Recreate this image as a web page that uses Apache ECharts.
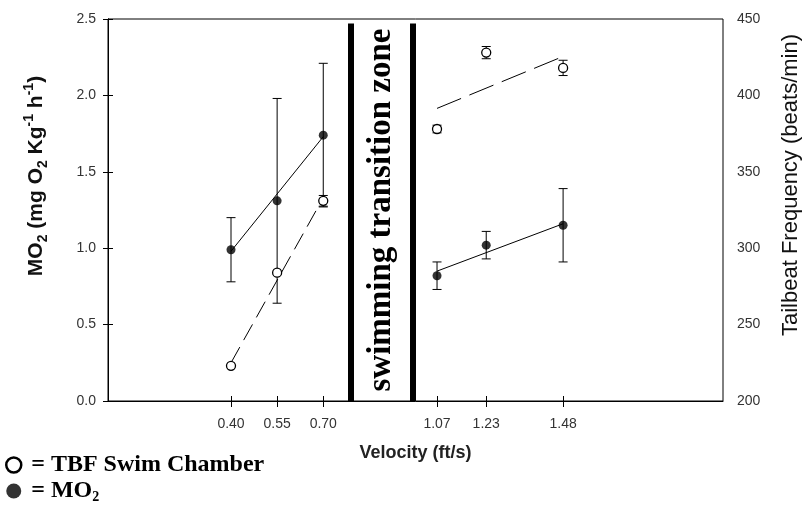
<!DOCTYPE html>
<html>
<head>
<meta charset="utf-8">
<script src="https://cdn.jsdelivr.net/npm/echarts@6/dist/echarts.min.js"></script>
<style>html,body{margin:0;padding:0;background:#fff}#c{width:804px;height:505px}</style>
</head>
<body>
<div id="c"></div>
<script>
// ---- data ----
const velocities = [0.40, 0.55, 0.70, 1.07, 1.23, 1.48];      // x tick labels (ft/s)
const mo2Mean   = [0.99, 1.31, 1.74, 0.82, 1.02, 1.15];        // left axis
const mo2Err    = [0.21, 0.67, 0.47, 0.09, 0.09, 0.24];
const tbfMean   = [223, 284, 331, 378, 428, 418];              // right axis
const tbfErr    = [0, 0, 3.5, 2.5, 4, 5];
const mo2FitSlow = [[0.40, 0.98], [0.70, 1.73]];
const mo2FitFast = [[1.07, 0.85], [1.48, 1.16]];
const tbfFitSlow = [[0.40, 225], [0.70, 333]];
const tbfFitFast = [[1.07, 391.5], [1.48, 425.5]];
const zoneEdges = [0.79, 0.99];       // transition zone boundaries (ft/s)
const zoneTop = 2.47;                 // top of boundary bars (left-axis units)
const zoneLabelPos = [0.89, 1.25];

const sans = '"Liberation Sans", Arial, sans-serif';
const serif = '"Liberation Serif", "Times New Roman", serif';

const mo2Pts = velocities.map((v, i) => [v, mo2Mean[i]]);
const tbfPts = velocities.map((v, i) => [v, tbfMean[i]]);
const mo2ErrData = velocities.map((v, i) => [v, mo2Mean[i], mo2Err[i]]);
const tbfErrData = velocities.map((v, i) => [v, tbfMean[i], tbfErr[i]]);

function errRender(params, api) {
  const x = api.value(0), y = api.value(1), e = api.value(2);
  if (!e) return;
  const t = api.coord([x, y + e]), b = api.coord([x, y - e]);
  const hw = 4.5;
  const st = {stroke: '#000', lineWidth: 1};
  return {type: 'group', children: [
    {type: 'line', shape: {x1: t[0], y1: t[1], x2: b[0], y2: b[1]}, style: st},
    {type: 'line', shape: {x1: t[0] - hw, y1: t[1], x2: t[0] + hw, y2: t[1]}, style: st},
    {type: 'line', shape: {x1: b[0] - hw, y1: b[1], x2: b[0] + hw, y2: b[1]}, style: st}
  ]};
}

const chart = echarts.init(document.getElementById('c'), null, {renderer: 'canvas'});
const lbl = {fontFamily: sans, fontSize: 14, color: '#333'};
chart.setOption({
  animation: false,
  backgroundColor: '#fff',
  grid: {left: 108, right: 81, top: 19, bottom: 104, show: true, borderColor: '#000', borderWidth: 1,
         containLabel: false, outerBoundsMode: 'none'},
  xAxis: [{
    type: 'value', min: 0, max: 2.0,
    name: 'Velocity (ft/s)', nameLocation: 'middle', nameGap: 43,
    nameTextStyle: {fontFamily: sans, fontWeight: 'bold', fontSize: 18, color: '#222'},
    axisLine: {lineStyle: {color: '#000', width: 1}},
    axisTick: {show: true, inside: false, length: 6, lineStyle: {color: '#000'}, customValues: velocities},
    axisLabel: Object.assign({margin: 16, customValues: velocities, formatter: v => v.toFixed(2)}, lbl),
    splitLine: {show: false}
  }, {
    type: 'value', min: 0, max: 2.0, position: 'bottom',
    axisLine: {show: false},
    axisTick: {show: true, inside: true, length: 5, lineStyle: {color: '#000'}, customValues: velocities},
    axisLabel: {show: false}, splitLine: {show: false}
  }],
  yAxis: [{
    type: 'value', min: 0, max: 2.5, interval: 0.5, position: 'left',
    name: 'MO{sub|2} (mg O{sub|2} Kg{sup|-1} h{sup|-1})', nameLocation: 'middle', nameGap: 58, nameRotate: 90,
    nameTextStyle: {
      fontFamily: sans, fontWeight: 'bold', fontSize: 21, lineHeight: 28, color: '#111',
      padding: [0, 0, 0, 68],
      rich: {
        sub: {fontFamily: sans, fontWeight: 'bold', fontSize: 14, lineHeight: 14, verticalAlign: 'bottom', color: '#111'},
        sup: {fontFamily: sans, fontWeight: 'bold', fontSize: 14, lineHeight: 14, verticalAlign: 'top', color: '#111'}
      }
    },
    axisLine: {show: true, lineStyle: {color: '#000', width: 1}},
    axisTick: {show: true, inside: false, length: 5, lineStyle: {color: '#000'}},
    axisLabel: Object.assign({margin: 12, formatter: v => v.toFixed(1)}, lbl),
    splitLine: {show: false}
  }, {
    type: 'value', min: 200, max: 450, interval: 50, position: 'right',
    name: 'Tailbeat Frequency (beats/min)', nameLocation: 'middle', nameGap: 57, nameRotate: 90,
    nameTextStyle: {fontFamily: sans, fontSize: 22, color: '#111', padding: [0, 0, 0, 50]},
    axisLine: {show: true, lineStyle: {color: '#000', width: 1}},
    axisTick: {show: true, inside: false, length: 5, lineStyle: {color: '#000'}},
    axisLabel: Object.assign({margin: 14}, lbl),
    splitLine: {show: false}
  }],
  legend: {
    orient: 'vertical', left: 0, top: 447, height: 80, itemWidth: 15, itemHeight: 15, itemGap: 0,
    selectedMode: false,
    data: [
      {name: 'TBF Swim Chamber', icon: 'circle', itemStyle: {color: '#fff', borderColor: '#000', borderWidth: 2.5}},
      {name: 'MO2', icon: 'circle', itemStyle: {color: '#000', borderWidth: 0}}
    ],
    formatter: n => n === 'MO2' ? '= MO{sub|2}' : '= TBF Swim Chamber',
    textStyle: {
      fontFamily: serif, fontWeight: 'bold', fontSize: 24, lineHeight: 26, color: '#000', padding: [0, 0, 0, 5],
      rich: {sub: {fontFamily: serif, fontWeight: 'bold', fontSize: 14, lineHeight: 14, verticalAlign: 'bottom', color: '#000'}}
    }
  },
  series: [
    {name: 'MO2 fit slow', type: 'line', xAxisIndex: 0, yAxisIndex: 0, data: mo2FitSlow, symbol: 'none',
     lineStyle: {color: '#000', width: 1}, z: 2,
     markLine: {silent: true, symbol: 'none', label: {show: false},
       lineStyle: {color: '#000', width: 6, type: 'solid'},
       data: zoneEdges.map(x => [{coord: [x, 0]}, {coord: [x, zoneTop]}])}},
    {name: 'MO2 fit fast', type: 'line', yAxisIndex: 0, data: mo2FitFast, symbol: 'none', lineStyle: {color: '#000', width: 1}, z: 2},
    {name: 'TBF fit slow', type: 'line', yAxisIndex: 1, data: tbfFitSlow, symbol: 'none', lineStyle: {color: '#000', width: 1, type: [18, 8]}, z: 2},
    {name: 'TBF fit fast', type: 'line', yAxisIndex: 1, data: tbfFitFast, symbol: 'none', lineStyle: {color: '#000', width: 1, type: [26, 9]}, z: 2},
    {name: 'MO2 err', type: 'custom', yAxisIndex: 0, data: mo2ErrData, renderItem: errRender, encode: {x: 0, y: 1}, z: 3},
    {name: 'TBF err', type: 'custom', yAxisIndex: 1, data: tbfErrData, renderItem: errRender, encode: {x: 0, y: 1}, z: 3},
    {name: 'MO2', type: 'scatter', yAxisIndex: 0, data: mo2Pts, symbol: 'circle', symbolSize: 9,
     itemStyle: {color: '#000'}, z: 5},
    {name: 'TBF Swim Chamber', type: 'scatter', yAxisIndex: 1, data: tbfPts, symbol: 'circle', symbolSize: 9,
     itemStyle: {color: '#fff', borderColor: '#000', borderWidth: 1.3, opacity: 1}, z: 6}
  ]
});
const p = chart.convertToPixel({xAxisIndex: 0, yAxisIndex: 0}, zoneLabelPos);
chart.setOption({graphic: [{
  type: 'text', x: p[0], y: p[1], rotation: Math.PI / 2, z: 10,
  style: {text: 'swimming transition zone', font: 'bold 33px ' + serif, fill: '#000', align: 'center', verticalAlign: 'middle'}
}]});
</script>
</body>
</html>
